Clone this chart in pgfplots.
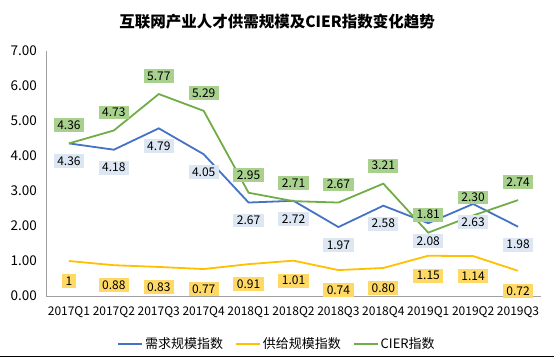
\documentclass[border=0pt]{standalone}
\usepackage{fontspec}
\setmainfont{Noto Sans CJK SC}
\usepackage{pgfplots}
\pgfplotsset{compat=1.18}
\definecolor{cblue}{RGB}{68,114,196}
\definecolor{cyellow}{RGB}{255,192,0}
\definecolor{cgreen}{RGB}{112,173,71}
\definecolor{fblue}{RGB}{221,231,244}
\definecolor{fyellow}{RGB}{255,217,102}
\definecolor{fgreen}{RGB}{169,209,142}
\definecolor{axgray}{RGB}{160,160,160}
\begin{document}
\begin{tikzpicture}
\useasboundingbox (0pt,0pt) rectangle (554pt,358pt);
\draw[black, line width=1pt] (0pt,1pt) -- (554pt,1pt);
\node[font=\bfseries\fontsize{15.5}{18}\selectfont] at (277pt,336pt) {互联网产业人才供需规模及CIER指数变化趋势};
\begin{axis}[
  at={(46.5pt,62pt)}, anchor=south west,
  scale only axis, width=494pt, height=245pt,
  xmin=-0.5, xmax=10.5, ymin=0, ymax=7,
  axis x line*=bottom, axis y line*=left,
  axis line style={axgray, line width=0.9pt},
  x axis line style={-}, y axis line style={-},
  xtick={0,...,10},
  xticklabels={2017Q1,2017Q2,2017Q3,2017Q4,2018Q1,2018Q2,2018Q3,2018Q4,2019Q1,2019Q2,2019Q3},
  ytick={0,1,...,7},
  major tick length=0pt,
  /pgf/number format/assume math mode=true,
  yticklabel style={/pgf/number format/.cd, fixed, fixed zerofill, precision=2, /tikz/.cd, font=\fontsize{13.5}{15}\selectfont, xshift=-6pt},
  xticklabel style={font=\fontsize{12}{14}\selectfont, yshift=-7pt},
  point meta=explicit symbolic,
  nodes near coords={\pgfplotspointmeta},
  legend columns=3,
  legend style={at={(0.4666,-0.196)}, anchor=center, draw=none, font=\fontsize{13}{15}\selectfont, /tikz/every even column/.append style={column sep=10pt}},
  legend image code/.code={\draw[#1] (0pt,0pt) -- (24pt,0pt);},
  clip=false,
]
\addplot[cblue, line width=1.8pt, mark=none,
  nodes near coords style={fill=fblue, text=black, font=\fontsize{12}{14}\selectfont, inner xsep=3.5pt, inner ysep=2.5pt, anchor=center, yshift=-18pt}]
coordinates {(0,4.36)[4.36] (1,4.18)[4.18] (2,4.79)[4.79] (3,4.05)[4.05] (4,2.67)[2.67] (5,2.72)[2.72] (6,1.97)[1.97] (7,2.58)[2.58] (8,2.08)[2.08] (9,2.63)[2.63] (10,1.98)[1.98]};
\addlegendentry{需求规模指数}
\addplot[cyellow, line width=1.8pt, mark=none,
  nodes near coords style={fill=fyellow, text=black, font=\fontsize{12}{14}\selectfont, inner xsep=3.5pt, inner ysep=2.5pt, anchor=center, yshift=-20pt}]
coordinates {(0,1)[1] (1,0.88)[0.88] (2,0.83)[0.83] (3,0.77)[0.77] (4,0.91)[0.91] (5,1.01)[1.01] (6,0.74)[0.74] (7,0.80)[0.80] (8,1.15)[1.15] (9,1.14)[1.14] (10,0.72)[0.72]};
\addlegendentry{供给规模指数}
\addplot[cgreen, line width=1.8pt, mark=none,
  nodes near coords style={fill=fgreen, text=black, font=\fontsize{12}{14}\selectfont, inner xsep=3.5pt, inner ysep=2.5pt, anchor=center, yshift=18pt}]
coordinates {(0,4.36)[4.36] (1,4.73)[4.73] (2,5.77)[5.77] (3,5.29)[5.29] (4,2.95)[2.95] (5,2.71)[2.71] (6,2.67)[2.67] (7,3.21)[3.21] (8,1.81)[1.81] (9,2.30)[2.30] (10,2.74)[2.74]};
\addlegendentry{CIER指数}
\end{axis}
\end{tikzpicture}
\end{document}
